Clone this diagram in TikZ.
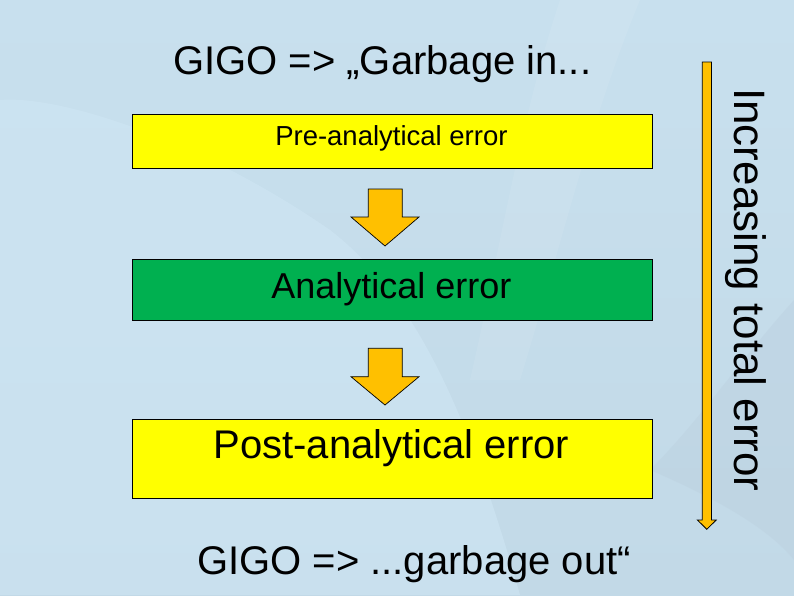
\documentclass[tikz,border=0pt]{standalone}
\usepackage{fontspec}
\setmainfont{Liberation Sans}
\begin{document}
\begin{tikzpicture}[x=1pt,y=-1pt,
  box/.style={draw=black,line width=0.9pt,inner sep=0pt},
  blockarrow/.style={fill=arrowor,draw=black,line width=0.7pt,line join=miter},
  txt/.style={anchor=base,inner sep=0pt,text=black}]
\definecolor{bgA}{RGB}{200,224,238}
\definecolor{bgB}{RGB}{194,217,231}
\definecolor{bgL}{RGB}{208,231,245}
\definecolor{bgD}{RGB}{188,208,223}
\definecolor{boxyellow}{RGB}{255,255,0}
\definecolor{boxgreen}{RGB}{0,176,80}
\definecolor{arrowor}{RGB}{255,192,0}
% background
\useasboundingbox (0,0) rectangle (794,595);
\shade[top color=bgA,bottom color=bgB] (0,0) rectangle (794,595);
\fill[bgL,opacity=0.55] (0,100) .. controls (60,95) and (200,140) .. (330,230)
  .. controls (420,300) and (470,420) .. (520,595) -- (0,595) -- cycle;
\fill[white,opacity=0.08] (560,0) .. controls (520,120) and (500,250) .. (470,380)
  -- (520,380) .. controls (560,250) and (590,120) .. (640,0) -- cycle;
\fill[bgD,opacity=0.45] (794,300) .. controls (740,360) and (700,420) .. (650,470)
  .. controls (720,500) and (770,530) .. (794,560) -- cycle;
% title and footer
\node[txt,anchor=base west,font=\fontsize{40}{48}\selectfont] (title) at (173,74) {GIGO => „Garbage in...};
\node[txt,anchor=base east,font=\fontsize{40}{48}\selectfont] (footer) at (631,574) {GIGO => ...garbage out“};
% boxes
\node[box,fill=boxyellow,anchor=north west,minimum width=520pt,minimum height=54pt] (pre) at (131.5,114.3) {};
\node[box,fill=boxgreen,anchor=north west,minimum width=520pt,minimum height=61pt] (ana) at (131.5,259.3) {};
\node[box,fill=boxyellow,anchor=north west,minimum width=520pt,minimum height=79pt] (post) at (131.5,419.3) {};
\node[txt,font=\fontsize{27.5}{32}\selectfont] (pretxt) at (391.4,145) {Pre-analytical error};
\node[txt,font=\fontsize{36}{43}\selectfont] (anatxt) at (391.4,298) {Analytical error};
\node[txt,font=\fontsize{40}{48}\selectfont] (posttxt) at (391.4,458) {Post-analytical error};
% block arrows
\draw[blockarrow] (368.3,189) -- (402.3,189) -- (402.3,217) -- (419,217) -- (385,246)
  -- (351,217) -- (368.3,217) -- cycle;
\draw[blockarrow] (368.3,348.3) -- (402.3,348.3) -- (402.3,376.7) -- (419,376.7) -- (385,405)
  -- (351,376.7) -- (368.3,376.7) -- cycle;
% vertical arrow
\coordinate (vtop) at (706.8,62);
\coordinate (vtip) at (706.8,529.3);
\draw[blockarrow,line width=0.8pt] (702.3,62) -- (711.5,62) -- (711.5,520) -- (716.2,520) -- (vtip)
  -- (697.4,520) -- (702.3,520) -- cycle;
\node[txt,anchor=base west,rotate=-90,font=\fontsize{44}{52}\selectfont] (vlabel) at (734,88) {Increasing total error};
\end{tikzpicture}
\end{document}
